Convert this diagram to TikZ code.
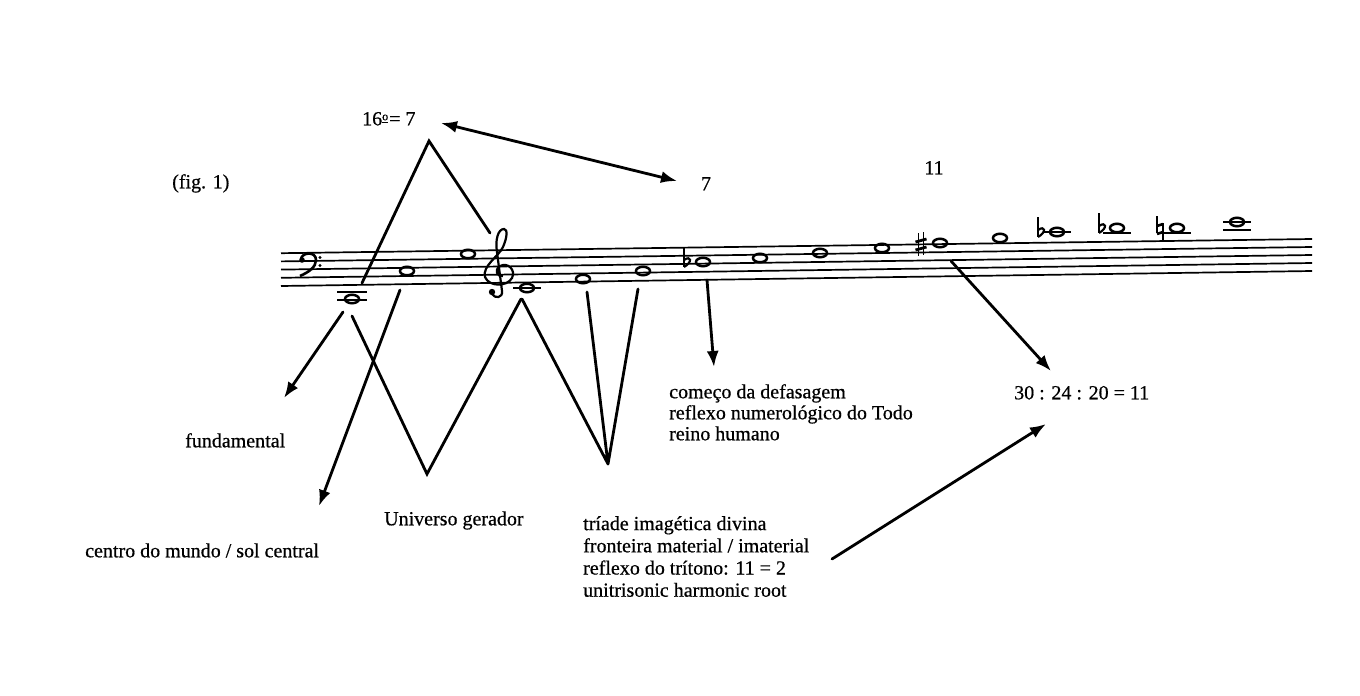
\documentclass[tikz,border=0pt]{standalone}
\usepackage{fontspec}
\setmainfont[FakeBold=0.6]{Liberation Serif}
\usetikzlibrary{arrows.meta,shapes.geometric}
\begin{document}
\begin{tikzpicture}[x=1pt,y=-1pt,
  lbl/.style={font=\fontsize{20}{21}\selectfont, inner sep=0pt},
  conn/.style={line width=2.8pt, line cap=round},
  arr/.style={conn, -{Latex[length=16pt,width=12pt]}},
  darr/.style={conn, {Latex[length=16pt,width=12pt]}-{Latex[length=16pt,width=12pt]}},
  staffline/.style={line width=1.7pt},
  ledger/.style={line width=1.8pt},
  notehead/.style={ellipse, draw, line width=2.5pt, minimum width=14pt, minimum height=8.5pt, inner sep=0pt},
  flatsign/.pic={\draw[line width=1.8pt] (0,-15) -- (0,5);
                 \draw[line width=2.2pt] (0,5) .. controls (9,0) and (7,-7) .. (0,-2);},
  sharpsign/.pic={\draw[line width=1.6pt] (-2.5,-11) -- (-2.5,12) (2.5,-12) -- (2.5,11);
                  \draw[line width=2.8pt] (-5.5,-2) -- (5.5,-5) (-5.5,6) -- (5.5,3);},
  naturalsign/.pic={\draw[line width=1.6pt] (-3,-12) -- (-3,5) (3,-5) -- (3,12);
                    \draw[line width=2.6pt] (-3,-2) -- (3,-4) (-3,6) -- (3,4);},
]
\useasboundingbox (0,0) rectangle (1360,696);
\fill[white] (0,0) rectangle (1360,696);

% staff
\foreach \k in {0,...,4}
  \draw[staffline] (281,{286-8.2*\k}) -- (1312,{271-8*\k});

% bass clef
\draw[line width=2.6pt] (301,259) .. controls (302,252) and (316,251) .. (316,260)
      .. controls (316,267) and (309,272) .. (300,276);
\fill (302,260) circle (2.8pt);
\fill (320,257.5) circle (1.6pt);
\fill (320,265.5) circle (1.6pt);

% treble clef
\draw[line width=2.2pt] (503,276) .. controls (497,277) and (494,270) .. (500,266)
      .. controls (508,262) and (516,270) .. (512,278)
      .. controls (507,287) and (489,287) .. (485,277)
      .. controls (482,266) and (499,256) .. (503,247)
      .. controls (507,238) and (508,229) .. (504,229)
      .. controls (498,229) and (495,240) .. (497,252)
      -- (502,291) .. controls (503,298) and (495,299) .. (492,294);
\fill (492,292) circle (3.2pt);

% ledger lines
\draw[ledger] (337,292) -- (367,292) (337,300) -- (367,300);
\draw[ledger] (513,288) -- (541,288);
\draw[ledger] (1043,232) -- (1071,232);
\draw[ledger] (1103,233) -- (1131,233);
\draw[ledger] (1163,233) -- (1191,233);
\draw[ledger] (1223,230) -- (1251,230) (1223,222) -- (1251,222);

% notes
\node[notehead] (c2) at (352,299) {};
\node[notehead] (c3) at (407,271) {};
\node[notehead] (g3) at (468,254) {};
\node[notehead] (c4) at (527,288) {};
\node[notehead] (e4) at (583,279) {};
\node[notehead] (g4) at (643,271) {};
\node[notehead] (bb4) at (703,262) {};
\node[notehead] (c5) at (760,258) {};
\node[notehead] (d5) at (820,253) {};
\node[notehead] (e5) at (882,248) {};
\node[notehead] (fs5) at (940,243) {};
\node[notehead] (g5) at (1000,238) {};
\node[notehead] (ab5) at (1057,232) {};
\node[notehead] (bb5) at (1117,228) {};
\node[notehead] (b5) at (1177,228) {};
\node[notehead] (c6) at (1237,222) {};

% accidentals
\pic at (684,262) {flatsign};
\pic at (921,244) {sharpsign};
\pic at (1038,232) {flatsign};
\pic at (1099,228) {flatsign};
\pic at (1160,228) {naturalsign};

% labels
\node[lbl, anchor=mid west] (t16) at (362,123) {16\raisebox{0.55ex}{\fontsize{12}{12}\selectfont\underline{o}}\kern1pt= 7};
\node[lbl, anchor=mid west] (fig) at (172,186) {(fig. 1)};
\node[lbl, anchor=mid] (seven) at (706,188) {7};
\node[lbl, anchor=mid] (eleven) at (934,172) {11};
\node[lbl, anchor=mid west] (fund) at (185,445) {fundamental};
\node[lbl, anchor=mid west] (centro) at (85,555) {centro do mundo / sol central};
\node[lbl, anchor=mid west] (univ) at (384,523) {Universo gerador};
\node[lbl, anchor=north west, align=left] (comeco) at (669,384)
  {começo da defasagem\\reflexo numerológico do Todo\\reino humano};
\node[lbl, anchor=north west, align=left, font=\fontsize{20}{22.2}\selectfont] (triade) at (583,516)
  {tríade imagética divina\\fronteira material / imaterial\\reflexo do trítono: 11 = 2\\unitrisonic harmonic root};
\node[lbl, anchor=mid west] (ratio) at (1014,397) {30 : 24 : 20 = 11};

% connector coordinates
\coordinate (peak) at (429,141);
\coordinate (pl) at (362,283);
\coordinate (pr) at (490,233);
\coordinate (dA) at (441,123);
\coordinate (dB) at (677,181);
\coordinate (fA) at (343,312);
\coordinate (fB) at (284,398);
\coordinate (cA) at (400,290);
\coordinate (cB) at (319,506);
\coordinate (uA) at (352,316);
\coordinate (uV) at (427,474);
\coordinate (uB) at (521,299);
\coordinate (tA) at (522,299);
\coordinate (tB) at (587,292);
\coordinate (tC) at (638,289);
\coordinate (tV) at (608,464);
\coordinate (bA) at (707,280);
\coordinate (bB) at (714,367);
\coordinate (sA) at (951,261);
\coordinate (sB) at (1051,371);
\coordinate (rA) at (832,559);
\coordinate (rB) at (1046,424);

% connectors
\draw[conn] (pl) -- (peak) -- (pr);
\draw[darr] (dA) -- (dB);
\draw[arr] (fA) -- (fB);
\draw[arr] (cA) -- (cB);
\draw[conn] (uA) -- (uV) -- (uB);
\draw[conn] (tA) -- (tV) (tB) -- (tV) (tC) -- (tV);
\draw[arr] (bA) -- (bB);
\draw[arr] (sA) -- (sB);
\draw[arr] (rA) -- (rB);
\end{tikzpicture}
\end{document}
